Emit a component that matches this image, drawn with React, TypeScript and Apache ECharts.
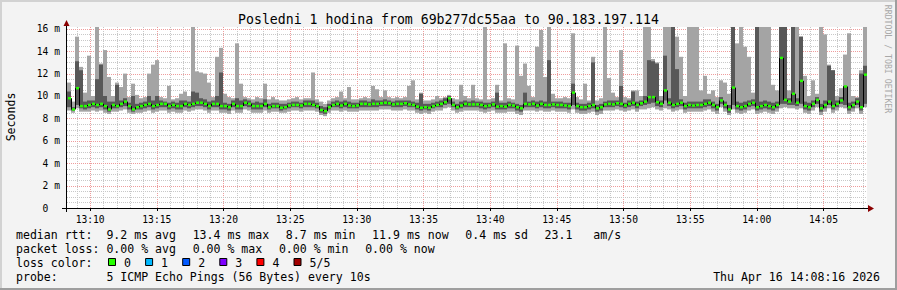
import React, { useEffect, useRef } from "react";
import * as echarts from "echarts";

// ---- time axis ----
const START = "13:08:16";
const STEP_S = 18; // seconds per drawn sample
const SPAN_S = 3600;
const X_TICK_LABELS = ["13:10", "13:15", "13:20", "13:25", "13:30", "13:35", "13:40", "13:45", "13:50", "13:55", "14:00", "14:05"];
const Y_MAX = 16.16;
const Y_TICKS = [0, 2, 4, 6, 8, 10, 12, 14, 16];

// ---- ping samples (ms): sorted pings p1 (lo), p2 (q1), median, p4 (q3), p5 (hi) ----
const lo = [
  8.7, 8.5, 8.9, 8.6, 8.6, 8.6, 8.7, 8.6, 8.7, 8.5, 8.4, 8.6, 8.6, 8.7, 8.8, 8.5, 8.4, 8.5, 8.5, 8.6, 8.7, 8.5, 8.6, 8.7, 8.7, 8.5, 8.6, 8.5, 8.5, 8.7, 8.6, 8.7, 8.8, 8.8, 8.7, 8.5, 8.7, 8.7, 8.5, 8.5, 8.4, 8.7, 8.5, 8.5, 8.8, 8.7, 8.5, 8.5, 8.5, 8.7,
  8.5, 8.6, 8.6, 8.5, 8.5, 8.6, 8.7, 8.7, 8.6, 8.7, 8.7, 8.7, 8.6, 8.3, 8.2, 8.5, 8.7, 8.7, 8.6, 8.7, 8.6, 8.6, 8.6, 8.7, 8.7, 8.7, 8.7, 8.7, 8.8, 8.8, 8.8, 8.7, 8.7, 8.7, 8.8, 8.7, 8.7, 8.5, 8.4, 8.5, 8.4, 8.6, 8.7, 8.7, 8.9, 9.0, 8.7, 8.5, 8.6, 8.7,
  8.7, 8.7, 8.7, 8.6, 8.5, 8.6, 8.7, 8.5, 8.5, 8.5, 8.6, 8.6, 8.4, 8.3, 8.7, 8.7, 8.7, 8.6, 8.7, 8.6, 8.6, 8.7, 8.6, 8.6, 8.6, 8.5, 8.8, 8.5, 8.4, 8.4, 8.5, 8.6, 8.3, 8.4, 8.7, 8.7, 8.7, 8.8, 8.7, 8.6, 8.7, 8.8, 8.6, 8.8, 8.8, 8.9, 9.0, 8.8, 8.7, 8.9,
  8.8, 8.6, 8.7, 8.8, 8.5, 8.6, 8.6, 8.6, 8.6, 8.7, 8.8, 8.6, 8.4, 9.0, 8.6, 8.3, 8.8, 8.5, 8.4, 8.5, 8.7, 8.8, 8.4, 8.5, 8.6, 8.5, 8.4, 8.6, 8.9, 9.0, 8.9, 8.9, 8.8, 8.9, 8.5, 8.4, 8.7, 9.0, 8.3, 8.6, 8.9, 8.5, 8.7, 9.0, 8.9, 8.4, 8.6, 8.9, 8.4, 9.0,
];
const q1 = [
  9.0, 8.7, 9.2, 8.9, 8.8, 8.9, 9.0, 8.9, 9.0, 8.8, 8.6, 8.9, 8.9, 9.0, 9.1, 8.8, 8.6, 8.8, 8.8, 8.9, 9.0, 8.8, 8.9, 9.0, 9.0, 8.8, 8.9, 8.8, 8.8, 9.0, 8.9, 9.0, 9.1, 9.1, 9.0, 8.8, 9.0, 9.0, 8.8, 8.8, 8.7, 9.0, 8.8, 8.8, 9.1, 9.0, 8.8, 8.8, 8.8, 9.0,
  8.8, 8.9, 8.9, 8.7, 8.8, 8.9, 9.0, 9.0, 8.9, 9.0, 9.0, 9.0, 8.9, 8.5, 8.4, 8.8, 9.0, 9.0, 8.9, 9.0, 8.9, 8.9, 8.9, 9.0, 9.0, 9.0, 9.0, 9.0, 9.1, 9.1, 9.1, 9.0, 9.0, 9.0, 9.1, 9.0, 9.0, 8.8, 8.7, 8.8, 8.7, 8.9, 9.0, 9.0, 9.2, 9.3, 9.0, 8.8, 8.9, 9.0,
  9.0, 9.0, 9.0, 8.9, 8.8, 8.9, 9.0, 8.8, 8.8, 8.8, 8.9, 8.9, 8.7, 8.6, 9.0, 9.0, 9.0, 8.9, 9.0, 8.9, 8.9, 9.0, 8.9, 8.9, 8.9, 8.8, 9.2, 8.8, 8.7, 8.7, 8.8, 8.9, 8.6, 8.7, 9.0, 9.0, 9.0, 9.1, 9.0, 8.9, 9.0, 9.1, 8.9, 9.1, 9.2, 9.3, 9.4, 9.1, 9.0, 9.6,
  9.1, 8.9, 9.0, 9.1, 8.8, 8.9, 8.9, 8.9, 8.9, 9.0, 9.1, 8.9, 8.7, 9.3, 8.9, 8.5, 9.2, 8.8, 8.7, 8.8, 9.0, 9.1, 8.7, 8.8, 8.9, 8.8, 8.7, 8.9, 9.3, 9.3, 9.2, 9.2, 9.1, 9.3, 8.8, 8.7, 9.0, 9.3, 8.6, 8.9, 9.2, 8.8, 9.0, 9.3, 9.2, 8.7, 8.9, 9.2, 8.7, 9.3,
];
const med = [
  9.8, 8.8, 10.7, 9.1, 9.1, 9.2, 9.3, 9.2, 9.3, 9.1, 8.8, 9.2, 9.1, 9.3, 9.5, 9.1, 8.8, 9.0, 9.1, 9.2, 9.3, 9.1, 9.2, 9.3, 9.3, 9.1, 9.2, 9.1, 9.1, 9.3, 9.2, 9.3, 9.4, 9.4, 9.3, 9.1, 9.3, 9.3, 9.1, 9.1, 9.0, 9.3, 9.1, 9.1, 9.4, 9.3, 9.1, 9.1, 9.1, 9.3,
  9.0, 9.1, 9.1, 8.95, 9.0, 9.15, 9.2, 9.2, 9.15, 9.3, 9.3, 9.2, 9.1, 8.75, 8.65, 9.0, 9.2, 9.3, 9.15, 9.3, 9.15, 9.1, 9.15, 9.3, 9.3, 9.25, 9.3, 9.3, 9.35, 9.4, 9.35, 9.25, 9.3, 9.3, 9.35, 9.25, 9.2, 9.05, 8.95, 9.0, 8.95, 9.1, 9.2, 9.3, 9.45, 9.8, 9.2, 9.0, 9.15, 9.3,
  9.25, 9.25, 9.25, 9.2, 9.1, 9.15, 9.25, 9.05, 9.1, 9.05, 9.2, 9.15, 9.0, 8.9, 9.3, 9.25, 9.3, 9.15, 9.3, 9.2, 9.2, 9.25, 9.2, 9.2, 9.15, 9.1, 10.3, 9.1, 9.0, 9.0, 9.1, 9.2, 8.9, 9.0, 9.25, 9.3, 9.25, 9.35, 9.3, 9.15, 9.3, 9.4, 9.2, 9.35, 9.5, 9.9, 9.9, 9.45, 9.3, 10.5,
  9.4, 9.2, 9.3, 9.4, 9.1, 9.2, 9.15, 9.2, 9.2, 9.3, 9.4, 9.2, 9.0, 9.6, 9.2, 8.8, 10.75, 9.1, 9.0, 9.1, 9.3, 9.4, 9.0, 9.1, 9.2, 9.1, 9.0, 9.2, 13.4, 9.65, 9.5, 10.2, 9.4, 11.35, 9.1, 9.0, 9.3, 9.65, 8.9, 9.2, 9.5, 9.1, 9.3, 9.6, 10.85, 9.0, 9.2, 9.5, 9.0, 11.9,
];
const q3 = [
  10.4, 9.0, 13.1, 12.3, 9.5, 9.6, 9.6, 11.5, 12.8, 10.0, 9.5, 9.5, 11.0, 9.6, 9.8, 9.4, 10.0, 9.3, 9.4, 9.5, 10.0, 9.6, 10.0, 9.6, 9.5, 9.4, 9.5, 9.4, 9.6, 9.6, 9.5, 10.4, 10.3, 9.8, 9.7, 9.5, 9.6, 10.0, 12.1, 9.4, 9.3, 9.6, 9.8, 9.6, 9.7, 9.6, 9.4, 9.5, 9.4, 9.7,
  9.3, 9.4, 9.4, 9.3, 9.3, 9.4, 9.5, 9.5, 9.4, 9.6, 9.6, 9.6, 9.4, 9.1, 9.0, 9.3, 9.5, 9.6, 9.5, 9.6, 9.5, 9.4, 9.4, 9.6, 9.6, 9.5, 9.7, 9.6, 9.6, 9.7, 9.6, 9.5, 9.6, 9.6, 9.6, 9.6, 9.5, 9.4, 10.2, 9.3, 9.3, 9.4, 9.5, 9.6, 9.8, 10.0, 9.5, 9.3, 9.5, 9.6,
  9.5, 9.6, 9.5, 9.5, 9.4, 9.4, 9.5, 10.3, 9.4, 9.4, 9.5, 9.4, 9.3, 9.2, 10.3, 9.5, 9.6, 9.5, 9.6, 9.5, 13.2, 9.5, 9.5, 9.5, 9.4, 9.4, 11.1, 9.4, 9.3, 9.3, 9.4, 13.0, 9.2, 9.3, 9.5, 9.6, 9.6, 9.6, 10.9, 9.4, 9.6, 10.4, 9.5, 9.6, 10.0, 13.2, 13.1, 12.9, 9.6, 13.6,
  9.8, 16.2, 12.4, 9.7, 9.4, 9.5, 9.5, 9.5, 9.5, 9.7, 9.7, 9.5, 9.3, 9.9, 9.5, 9.2, 16.2, 9.5, 9.4, 9.5, 9.6, 9.7, 16.2, 9.5, 9.6, 9.5, 9.4, 9.5, 16.2, 16.2, 9.8, 16.2, 9.8, 15.3, 9.5, 9.4, 9.6, 9.9, 9.3, 9.6, 12.7, 12.3, 9.6, 9.9, 10.9, 9.4, 9.5, 9.8, 12.0, 12.7,
];
const hi = [
  11.2, 9.5, 15.3, 12.6, 10.3, 13.6, 10.0, 16.2, 12.9, 14.1, 11.7, 10.0, 11.2, 10.8, 12.0, 9.9, 11.1, 10.1, 9.8, 9.9, 12.0, 12.8, 13.2, 9.9, 9.8, 10.9, 9.7, 9.8, 10.2, 10.4, 10.0, 16.2, 12.2, 12.1, 12.0, 11.2, 9.9, 13.5, 14.3, 10.2, 9.9, 9.8, 14.7, 11.1, 9.9, 9.8, 9.7, 9.9, 9.8, 11.1,
  9.7, 9.9, 9.7, 9.6, 9.6, 9.7, 9.8, 9.9, 9.7, 9.8, 9.8, 12.1, 9.7, 9.5, 9.3, 9.6, 9.8, 9.9, 10.4, 9.8, 10.8, 9.7, 9.7, 9.8, 9.9, 9.8, 10.9, 10.6, 9.9, 10.5, 9.9, 9.8, 9.9, 9.8, 9.9, 10.9, 11.4, 9.7, 10.3, 9.6, 9.6, 9.7, 10.0, 9.8, 9.9, 10.1, 9.8, 9.7, 11.0, 10.0,
  9.8, 11.0, 9.8, 9.7, 16.2, 9.7, 9.8, 11.0, 9.6, 14.7, 9.8, 9.7, 14.5, 11.8, 12.9, 10.9, 9.9, 14.4, 15.9, 11.7, 16.2, 10.2, 9.8, 9.8, 9.9, 9.8, 15.6, 9.9, 9.7, 11.1, 9.6, 13.5, 9.6, 9.8, 16.2, 11.6, 10.3, 9.9, 14.1, 9.9, 9.8, 10.5, 10.5, 10.0, 16.2, 16.2, 13.3, 13.0, 10.0, 16.2,
  16.2, 16.2, 15.3, 13.5, 10.0, 16.2, 16.2, 16.2, 10.5, 11.8, 10.2, 10.5, 9.9, 11.4, 11.2, 10.2, 16.2, 14.7, 16.2, 14.4, 13.5, 10.3, 16.2, 16.2, 16.2, 16.2, 11.0, 10.5, 16.2, 16.2, 10.5, 16.2, 16.2, 15.3, 11.8, 10.0, 11.4, 10.2, 16.2, 15.5, 12.8, 12.3, 10.0, 10.7, 13.7, 15.6, 10.0, 9.9, 12.3, 16.2,
];

// ---- legend ----
const LOSS_LABELS = ["0", "1", "2", "3", "4", "5/5"];
const LOSS_COLORS = ["#26ff00", "#00b8ff", "#0059ff", "#7e00ff", "#ff0000", "#a10000"];
const RTT_ITEMS = ["13.4 ms max", "8.7 ms min", "11.9 ms now", "0.4 ms sd"];
const LOSS_ITEMS = ["0.00 % max", "0.00 % min", "0.00 % now"];

const MONO = '"DejaVu Sans Mono", monospace';
const LIGHT = "#a4a4a4";
const DARK = "#585858";
const GRID_MINOR = "#c8c8c8";
const GRID_MAJOR = "#ee9c9c";

const toSec = (s: string) => {
  const p = s.split(":").map(Number);
  return p[0] * 3600 + p[1] * 60 + (p[2] || 0);
};
const START_S = toSec(START);
const tickSecs = X_TICK_LABELS.map((l) => toSec(l) - START_S);

export default function App() {
  const ref = useRef<HTMLDivElement>(null);
  useEffect(() => {
    if (!ref.current) return;
    const chart = echarts.init(ref.current, undefined, { renderer: "svg" });

    const smokeData = med.map((m, i) => [i * STEP_S, lo[i], q1[i], m, q3[i], hi[i]]);
    const medData = med.map((m, i) => [i * STEP_S, m, i > 0 ? med[i - 1] : m]);
    const vGrid: number[][] = [];
    const firstMin = Math.ceil(START_S / 60);
    for (let mm = firstMin; mm * 60 <= START_S + SPAN_S; mm++) {
      vGrid.push([mm * 60 - START_S, mm % 5 === 0 ? 1 : 0]);
    }
    const hGrid: number[][] = [];
    for (let v = 0.5; v <= 16; v += 0.5) hGrid.push([0, v, v % 2 === 0 ? 1 : 0]);

    const CW = 6.955;
    const GAP = 16.7;
    const fs = 11.55;
    const txt = (text: string, x: number, y: number, extra: any = {}) => ({
      type: "text",
      x,
      y,
      z: 100,
      style: {
        text,
        fill: "#000",
        font: `${fs}px ${MONO}`,
        textAlign: "left",
        align: "left",
        textVerticalAlign: "middle",
        verticalAlign: "middle",
        ...extra,
      },
    });
    const legend: any[] = [];
    const L1 = 234.8, L2 = 248.8, L3 = 262.8, L4 = 276.8;
    // line 1
    legend.push(txt("median rtt:", 16, L1));
    legend.push(txt("9.2 ms avg", 16 + 13 * CW, L1));
    let x = 16 + 23 * CW + GAP;
    RTT_ITEMS.forEach((s) => {
      legend.push(txt(s, x, L1));
      x += s.length * CW + GAP;
    });
    legend.push(txt("23.1", x, L1));
    legend.push(txt("am/s", x + 7 * CW, L1));
    // line 2
    legend.push(txt("packet loss:", 16, L2));
    legend.push(txt("0.00 % avg", 16 + 13 * CW, L2));
    x = 16 + 23 * CW + GAP;
    LOSS_ITEMS.forEach((s) => {
      legend.push(txt(s, x, L2));
      x += s.length * CW + GAP;
    });
    // line 3
    legend.push(txt("loss color:", 16, L3));
    LOSS_LABELS.forEach((l, k) => {
      const bx = 108.5 + k * 37.1;
      legend.push({
        type: "rect",
        z: 100,
        shape: { x: bx, y: 258.5, width: 7, height: 7 },
        style: { fill: LOSS_COLORS[k], stroke: "#000", lineWidth: 1 },
      });
      legend.push(txt(l, bx + 15.5, L3));
    });
    // line 4
    legend.push(txt("probe:", 16, L4));
    legend.push(txt("5 ICMP Echo Pings (56 Bytes) every 10s", 16 + 13 * CW, L4));
    legend.push(txt("Thu Apr 16 14:08:16 2026", 880, L4, { textAlign: "right", align: "right" }));

    const option: any = {
      animation: false,
      backgroundColor: "#f3f3f3",
      grid: {
        left: 67,
        top: 27,
        width: 800,
        height: 181,
        show: true,
        backgroundColor: "#ffffff",
        borderWidth: 0,
        containLabel: false,
      },
      xAxis: {
        type: "value",
        min: 0,
        max: SPAN_S,
        axisLine: { show: false },
        splitLine: { show: false },
        axisTick: { show: true, customValues: tickSecs, length: 3, lineStyle: { color: "#000" } },
        axisLabel: {
          customValues: tickSecs,
          margin: 6,
          color: "#000",
          fontFamily: MONO,
          fontSize: 9.65,
          formatter: (v: number) => {
            const k = tickSecs.indexOf(Math.round(v));
            return k >= 0 ? X_TICK_LABELS[k] : "";
          },
        },
      },
      yAxis: {
        type: "value",
        min: 0,
        max: Y_MAX,
        interval: 2,
        axisLine: { show: false },
        axisTick: { show: false },
        splitLine: { show: false },
        axisLabel: {
          showMaxLabel: false,
          margin: 7,
          color: "#000",
          fontFamily: MONO,
          fontSize: 9.65,
          formatter: (v: number) => (Y_TICKS.indexOf(v) < 0 ? "" : v === 0 ? "{z|0}" : `${v} m`),
          rich: { z: { fontFamily: MONO, fontSize: 9.65, color: "#000", padding: [0, 11.6, 0, 0] } },
        },
      },
      series: [
        {
          type: "custom",
          z: 1,
          silent: true,
          data: vGrid,
          encode: { x: 0 },
          renderItem: (params: any, api: any) => {
            const cs = params.coordSys;
            const xx = Math.round(api.coord([api.value(0), 0])[0]) + 0.5;
            return {
              type: "line",
              shape: { x1: xx, y1: cs.y, x2: xx, y2: cs.y + cs.height },
              style: { stroke: api.value(1) === 1 ? GRID_MAJOR : GRID_MINOR, lineWidth: 1, lineDash: [1, 1] },
            };
          },
        },
        {
          type: "custom",
          z: 1,
          silent: true,
          data: hGrid,
          encode: { x: 0, y: 1 },
          renderItem: (params: any, api: any) => {
            const cs = params.coordSys;
            const yy = Math.round(api.coord([0, api.value(1)])[1]) + 0.5;
            return {
              type: "line",
              shape: { x1: cs.x, y1: yy, x2: cs.x + cs.width, y2: yy },
              style: { stroke: api.value(2) === 1 ? GRID_MAJOR : GRID_MINOR, lineWidth: 1, lineDash: [1, 1] },
            };
          },
        },
        {
          type: "custom",
          z: 2,
          silent: true,
          clip: true,
          data: smokeData,
          encode: { x: 0, y: [1, 5] },
          renderItem: (params: any, api: any) => {
            const t = api.value(0);
            const x0 = api.coord([t, 0])[0];
            const x1 = api.coord([t + STEP_S, 0])[0];
            const y = (v: number) => api.coord([t, v])[1];
            const yLo = y(api.value(1));
            const yQ1 = y(api.value(2));
            const yQ3 = y(api.value(4));
            const yHi = y(api.value(5));
            return {
              type: "group",
              children: [
                { type: "rect", shape: { x: x0, y: yHi, width: x1 - x0, height: yLo - yHi }, style: { fill: LIGHT } },
                { type: "rect", shape: { x: x0, y: yQ3, width: x1 - x0, height: yQ1 - yQ3 }, style: { fill: DARK } },
              ],
            };
          },
        },
        {
          type: "custom",
          z: 3,
          silent: true,
          clip: true,
          data: medData,
          encode: { x: 0, y: 1 },
          renderItem: (params: any, api: any) => {
            const t = api.value(0);
            const x0 = api.coord([t, 0])[0];
            const x1 = api.coord([t + STEP_S, 0])[0];
            const ym = api.coord([t, api.value(1)])[1];
            const yp = api.coord([t, api.value(2)])[1];
            return {
              type: "group",
              children: [
                { type: "line", shape: { x1: x0 + 0.5, y1: yp, x2: x0 + 0.5, y2: ym }, style: { stroke: "#000", lineWidth: 1 } },
                { type: "rect", shape: { x: x0 + 1, y: ym - 1.25, width: x1 - x0 - 1, height: 2.5 }, style: { fill: LOSS_COLORS[0] } },
              ],
            };
          },
        },
      ],
      graphic: [
        // frame shading
        { type: "rect", z: 100, shape: { x: 0, y: 0, width: 897, height: 2 }, style: { fill: "#d2d2d2" } },
        { type: "rect", z: 100, shape: { x: 0, y: 0, width: 2, height: 290 }, style: { fill: "#d2d2d2" } },
        { type: "rect", z: 100, shape: { x: 0, y: 288, width: 897, height: 2 }, style: { fill: "#9e9e9e" } },
        { type: "rect", z: 100, shape: { x: 895, y: 0, width: 2, height: 290 }, style: { fill: "#9e9e9e" } },
        // title
        {
          type: "text",
          x: 448.5,
          y: 19,
          z: 100,
          style: {
            text: "Posledni 1 hodina from 69b277dc55aa to 90.183.197.114",
            fill: "#000",
            font: `13.2px ${MONO}`,
            textAlign: "center",
            align: "center",
            textVerticalAlign: "middle",
            verticalAlign: "middle",
          },
        },
        // y axis name
        {
          type: "text",
          x: 10.5,
          y: 117,
          rotation: Math.PI / 2,
          z: 100,
          style: {
            text: "Seconds",
            fill: "#000",
            font: `${fs}px ${MONO}`,
            textAlign: "center",
            align: "center",
            textVerticalAlign: "middle",
            verticalAlign: "middle",
          },
        },
        // watermark
        {
          type: "text",
          x: 888,
          y: 59,
          rotation: -Math.PI / 2,
          z: 100,
          style: {
            text: "RRDTOOL / TOBI OETIKER",
            fill: "#a8a8a8",
            font: `8.2px ${MONO}`,
            textAlign: "center",
            align: "center",
            textVerticalAlign: "middle",
            verticalAlign: "middle",
          },
        },
        // axes
        { type: "line", z: 100, shape: { x1: 62, y1: 208.5, x2: 869, y2: 208.5 }, style: { stroke: "#000", lineWidth: 1 } },
        { type: "line", z: 100, shape: { x1: 66.5, y1: 212, x2: 66.5, y2: 24 }, style: { stroke: "#000", lineWidth: 1 } },
        { type: "polygon", z: 101, shape: { points: [[868, 205], [874, 208.5], [868, 212]] }, style: { fill: "#8b0000" } },
        { type: "polygon", z: 101, shape: { points: [[63.5, 26], [66.5, 20], [69.5, 26]] }, style: { fill: "#8b0000" } },
        ...legend,
      ],
    };
    chart.setOption(option);
    return () => chart.dispose();
  }, []);
  return <div ref={ref} style={{ position: "fixed", left: 0, top: 0, width: 897, height: 290 }} />;
}
